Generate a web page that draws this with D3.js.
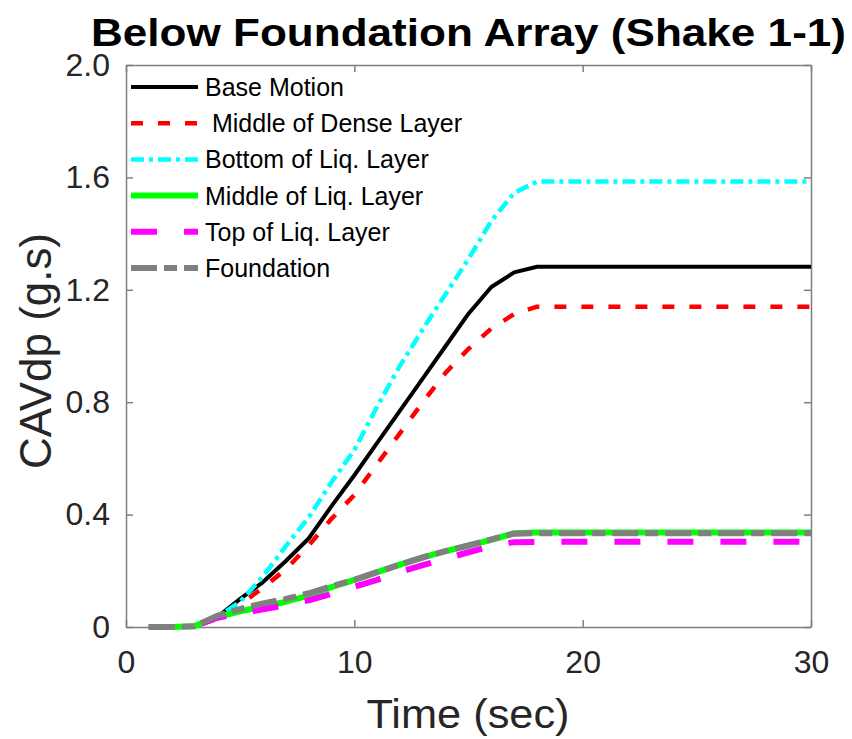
<!DOCTYPE html>
<html>
<head>
<meta charset="utf-8">
<script src="https://cdn.jsdelivr.net/npm/d3@7"></script>
<style>
  html, body { margin: 0; padding: 0; background: #fff; }
  svg { display: block; font-family: "Liberation Sans", Arial, sans-serif; }
</style>
</head>
<body>
<svg id="chart" width="852" height="739"></svg>
<script>
// Time samples (s)
const time = [1, 2, 3, 4, 5, 6, 7, 8, 9, 10, 11, 12, 13, 14, 15, 16, 17, 18, 30];

// CAVdp (g.s) at each sensor
const baseMotion   = [0, 0, 0.003, 0.035, 0.10, 0.16, 0.235, 0.315, 0.43, 0.54, 0.655, 0.77, 0.885, 1.0, 1.115, 1.21, 1.262, 1.282, 1.282];
const midDense     = [0, 0, 0.003, 0.03, 0.08, 0.14, 0.205, 0.29, 0.385, 0.47, 0.58, 0.69, 0.80, 0.905, 0.99, 1.062, 1.114, 1.14, 1.14];
const bottomLiq    = [0, 0, 0.003, 0.035, 0.09, 0.18, 0.288, 0.39, 0.515, 0.63, 0.785, 0.93, 1.06, 1.185, 1.31, 1.445, 1.545, 1.585, 1.585];
const midLiq       = [0, 0, 0.003, 0.035, 0.056, 0.072, 0.09, 0.112, 0.142, 0.168, 0.195, 0.222, 0.248, 0.27, 0.29, 0.31, 0.334, 0.336, 0.336];
const topLiq       = [0, 0, 0.003, 0.033, 0.048, 0.063, 0.078, 0.095, 0.118, 0.143, 0.168, 0.196, 0.22, 0.243, 0.266, 0.288, 0.302, 0.303, 0.303];
const foundation   = [0, 0, 0.003, 0.04, 0.064, 0.084, 0.10, 0.12, 0.145, 0.168, 0.195, 0.222, 0.248, 0.27, 0.29, 0.312, 0.332, 0.334, 0.334];

const seriesNames = ["Base Motion", " Middle of Dense Layer", "Bottom of Liq. Layer", "Middle of Liq. Layer", "Top of Liq. Layer", "Foundation"];
const seriesValues = [baseMotion, midDense, bottomLiq, midLiq, topLiq, foundation];

const xTicks = [0, 10, 20, 30];
const yTicks = [0, 0.4, 0.8, 1.2, 1.6, 2.0];
const yTickLabels = ["0", "0.4", "0.8", "1.2", "1.6", "2.0"];

const titleText = "Below Foundation Array (Shake 1-1)";
const xLabel = "Time (sec)";
const yLabel = "CAVdp (g.s)";

// line appearance per series
const styles = [
  { color: "#000000", width: 4,   dash: null },
  { color: "#ff0000", width: 4.5, dash: "12,15" },
  { color: "#00ffff", width: 4.5, dash: "13,5,4,5" },
  { color: "#00ff00", width: 6,   dash: null },
  { color: "#ff00ff", width: 6,   dash: "26,27" },
  { color: "#808080", width: 6,   dash: "26,7,13,7" }
];

const svg = d3.select("#chart");
const plot = { left: 126, right: 811, top: 65, bottom: 627 };

const x = d3.scaleLinear().domain([0, 30]).range([plot.left, plot.right]);
const y = d3.scaleLinear().domain([0, 2]).range([plot.bottom, plot.top]);

const axisColor = "#7f7f7f";
const textColor = "#262626";

// axes with inward ticks, mirrored on the top and right
const axB = svg.append("g").attr("transform", `translate(0,${plot.bottom})`)
  .call(d3.axisBottom(x).tickValues(xTicks).tickSizeInner(-7).tickSizeOuter(0).tickPadding(23).tickFormat(d3.format("d")));
const axT = svg.append("g").attr("transform", `translate(0,${plot.top})`)
  .call(d3.axisTop(x).tickValues(xTicks).tickSizeInner(-7).tickSizeOuter(0).tickFormat(""));
const axL = svg.append("g").attr("transform", `translate(${plot.left},0)`)
  .call(d3.axisLeft(y).tickValues(yTicks).tickSizeInner(-7).tickSizeOuter(0).tickPadding(16).tickFormat((d, i) => yTickLabels[i]));
const axR = svg.append("g").attr("transform", `translate(${plot.right},0)`)
  .call(d3.axisRight(y).tickValues(yTicks).tickSizeInner(-7).tickSizeOuter(0).tickFormat(""));

[axB, axT, axL, axR].forEach(g => {
  g.select(".domain").attr("stroke", axisColor).attr("stroke-width", 1.5);
  g.selectAll(".tick line").attr("stroke", axisColor).attr("stroke-width", 1.5);
  g.selectAll(".tick text").attr("fill", textColor).attr("font-size", 32)
    .attr("font-family", "Liberation Sans, Arial, sans-serif");
});
axB.selectAll(".tick text").attr("dy", "0.71em");

// data lines
const line = d3.line().x((d, i) => x(time[i])).y(d => y(d));
const linesG = svg.append("g");
seriesValues.forEach((vals, k) => {
  linesG.append("path")
    .datum(vals)
    .attr("d", line)
    .attr("fill", "none")
    .attr("stroke", styles[k].color)
    .attr("stroke-width", styles[k].width)
    .attr("stroke-dasharray", styles[k].dash)
    .attr("stroke-linejoin", "round");
});

// legend (no frame)
const legend = svg.append("g");
const legY0 = 87, legDy = 36.2;
seriesNames.forEach((name, k) => {
  const yy = legY0 + k * legDy;
  legend.append("line")
    .attr("x1", 131).attr("x2", 198).attr("y1", yy).attr("y2", yy)
    .attr("stroke", styles[k].color)
    .attr("stroke-width", styles[k].width)
    .attr("stroke-dasharray", styles[k].dash);
  legend.append("text")
    .attr("x", 205).attr("y", yy)
    .attr("dy", "0.36em")
    .attr("font-size", 25)
    .attr("fill", "#000")
    .attr("xml:space", "preserve")
    .style("white-space", "pre")
    .text(name);
});

// title
svg.append("text")
  .attr("x", 91).attr("y", 46)
  .attr("font-size", 39).attr("font-weight", "bold")
  .attr("textLength", 755).attr("lengthAdjust", "spacingAndGlyphs")
  .attr("fill", "#000")
  .text(titleText);

// axis labels
svg.append("text")
  .attr("x", 468).attr("y", 728)
  .attr("text-anchor", "middle")
  .attr("font-size", 40)
  .attr("textLength", 203).attr("lengthAdjust", "spacingAndGlyphs")
  .attr("fill", textColor)
  .text(xLabel);

svg.append("text")
  .attr("transform", "translate(51,351) rotate(-90)")
  .attr("text-anchor", "middle")
  .attr("font-size", 44)
  .attr("textLength", 236).attr("lengthAdjust", "spacingAndGlyphs")
  .attr("fill", textColor)
  .text(yLabel);
</script>
</body>
</html>
